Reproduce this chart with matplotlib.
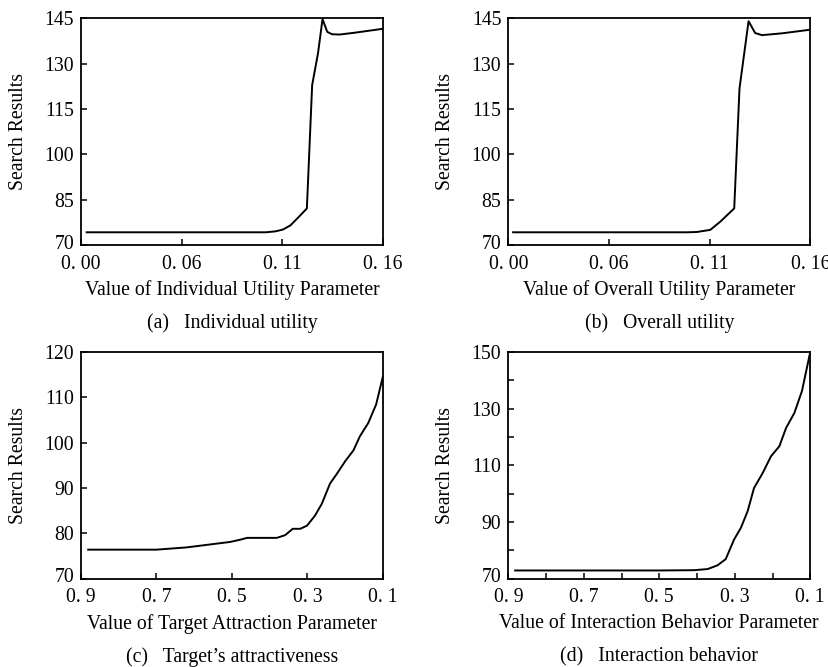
import numpy as np
import matplotlib
matplotlib.use('Agg')
import matplotlib.pyplot as plt
from matplotlib.ticker import FixedLocator
from matplotlib.transforms import ScaledTranslation

plt.rcParams['font.family'] = ['Liberation Serif', 'DejaVu Serif']
plt.rcParams['font.size'] = 14.2

##########################################################
# Data
ind_x = [0.003, 0.03, 0.06, 0.098, 0.103, 0.107, 0.111, 0.115, 0.1197,
         0.1225, 0.1256, 0.128, 0.1305, 0.133, 0.137, 0.145, 0.16]
ind_y = [74.2, 74.2, 74.2, 74.2, 74.5, 75.1, 76.5, 79.0, 82.1,
         122.9, 133.4, 144.7, 140.5, 139.7, 139.6, 140.2, 141.5]

ovr_x = [0.0025, 0.05, 0.0948, 0.0999, 0.107, 0.1123, 0.1197,
         0.1225, 0.1273, 0.1308, 0.1344, 0.145, 0.16]
ovr_y = [74.2, 74.2, 74.2, 74.3, 75.0, 77.7, 82.1,
         121.8, 144.0, 140.1, 139.4, 140.0, 141.2]

tgt_x = [0.881, 0.80, 0.70, 0.62, 0.505, 0.478, 0.46, 0.381, 0.359, 0.339, 0.319,
         0.301, 0.28, 0.262, 0.24, 0.223, 0.2, 0.178, 0.161, 0.139, 0.118, 0.1]
tgt_y = [76.4, 76.4, 76.4, 76.9, 78.1, 78.6, 79.0, 79.0, 79.6, 81.0, 81.0,
         81.7, 83.9, 86.5, 91.0, 93.0, 95.9, 98.3, 101.4, 104.3, 108.4, 114.6]

int_x = [0.882, 0.7, 0.5, 0.408, 0.372, 0.346, 0.324, 0.302, 0.284, 0.266,
         0.249, 0.226, 0.204, 0.182, 0.164, 0.142, 0.122, 0.1]
int_y = [72.9, 72.9, 72.9, 73.0, 73.4, 74.7, 76.9, 83.8, 87.9, 93.8,
         102.0, 107.3, 113.2, 116.7, 123.2, 128.5, 136.2, 150.0]

util_ticks = [0.0, 0.16 / 3, 0.32 / 3, 0.16]
util_labels = ['0. 00', '0. 06', '0. 11', '0. 16']
par_ticks = [0.9, 0.7, 0.5, 0.3, 0.1]
par_labels = ['0. 9', '0. 7', '0. 5', '0. 3', '0. 1']

##########################################################
fig = plt.figure(figsize=(8.29, 6.67), dpi=100)

W = 0.3642
H = 0.340
ax_a = fig.add_axes([0.0977, 0.6327, W, H])
ax_b = fig.add_axes([0.6132, 0.6327, W, H])
ax_c = fig.add_axes([0.0977, 0.1324, W, H])
ax_d = fig.add_axes([0.6132, 0.1324, W, H])


def style(ax, xlabel, caption):
    for s in ax.spines.values():
        s.set_linewidth(1.3)
    ax.tick_params(direction='in', length=4, width=1.1, labelsize=14.2)
    ax.tick_params(axis='x', pad=7)
    ax.tick_params(axis='y', pad=5)
    ax.tick_params(which='minor', direction='in', length=4, width=1.1)
    ax.set_xlabel(xlabel, fontsize=14.2, va='center')
    ax.xaxis.set_label_coords(0.5, -0.198)
    ax.set_ylabel('Search Results', fontsize=14.2, va='center')
    ax.yaxis.set_label_coords(-0.208, 0.5)
    ax.text(0.5, -0.344, caption, transform=ax.transAxes,
            ha='center', va='center', fontsize=14.2)
    # lift the bottom y label a bit, as in the original
    lab = ax.get_yticklabels()[0]
    lab.set_transform(lab.get_transform() +
                      ScaledTranslation(0, 2.5 / 72, fig.dpi_scale_trans))


# (a)
ax_a.plot(ind_x, ind_y, color='black', lw=1.4)
ax_a.set_xlim(0, 0.16)
ax_a.set_ylim(70, 145)
ax_a.set_xticks(util_ticks)
ax_a.set_xticklabels(util_labels)
ax_a.set_yticks([70, 85, 100, 115, 130, 145])
style(ax_a, 'Value of Individual Utility Parameter', '(a)   Individual utility')

# (b)
ax_b.plot(ovr_x, ovr_y, color='black', lw=1.4)
ax_b.set_xlim(0, 0.16)
ax_b.set_ylim(70, 145)
ax_b.set_xticks(util_ticks)
ax_b.set_xticklabels(util_labels)
ax_b.set_yticks([70, 85, 100, 115, 130, 145])
style(ax_b, 'Value of Overall Utility Parameter', '(b)   Overall utility')

# (c)
ax_c.plot(tgt_x, tgt_y, color='black', lw=1.4)
ax_c.set_xlim(0.9, 0.1)
ax_c.set_ylim(70, 120)
ax_c.set_xticks(par_ticks)
ax_c.set_xticklabels(par_labels)
ax_c.set_yticks([70, 80, 90, 100, 110, 120])
style(ax_c, 'Value of Target Attraction Parameter', '(c)   Target\u2019s attractiveness')

# (d)
ax_d.plot(int_x, int_y, color='black', lw=1.4)
ax_d.set_xlim(0.9, 0.1)
ax_d.set_ylim(70, 150)
ax_d.set_xticks(par_ticks)
ax_d.set_xticklabels(par_labels)
ax_d.set_yticks([70, 90, 110, 130, 150])
ax_d.xaxis.set_minor_locator(FixedLocator([0.8, 0.6, 0.4, 0.2]))
ax_d.yaxis.set_minor_locator(FixedLocator([80, 100, 120, 140]))
style(ax_d, 'Value of Interaction Behavior Parameter', '(d)   Interaction behavior')

plt.savefig('out.png', dpi=100)
